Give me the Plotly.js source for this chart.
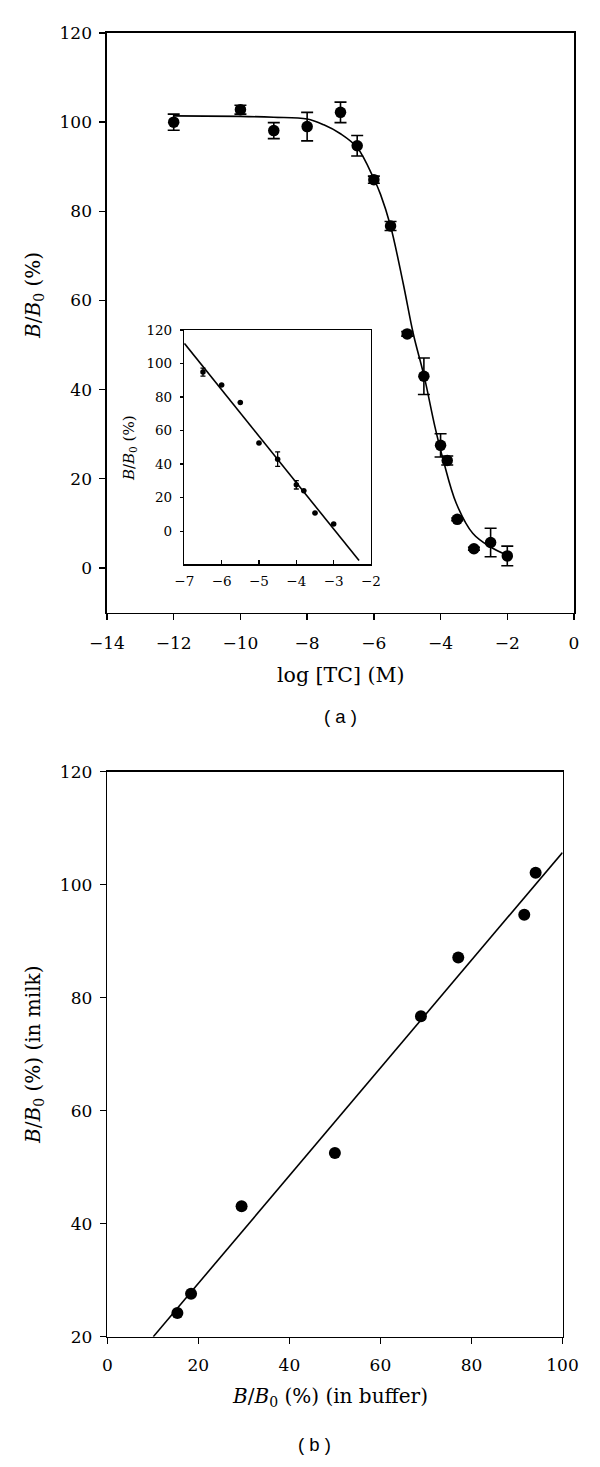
<!DOCTYPE html>
<html>
<head>
<meta charset="utf-8">
<script src="https://cdn.plot.ly/plotly-3.0.1.min.js"></script>
<style>
  html, body { margin: 0; padding: 0; background: #fff; }
  #chart { width: 600px; height: 1467px; }
</style>
</head>
<body>
<div id="chart"></div>
<script>
// ---------- Panel (a): main competitive curve ----------
const logTC      = [-12, -10, -9, -8, -7, -6.5, -6, -5.5, -5, -4.5, -4, -3.8, -3.5, -3, -2.5, -2];
const bb0        = [100.0, 102.8, 98.1, 99.0, 102.2, 94.7, 87.1, 76.7, 52.5, 43.0, 27.5, 24.1, 10.9, 4.3, 5.7, 2.7];
const bb0Err     = [1.8, 1.0, 1.8, 3.2, 2.3, 2.3, 0.8, 1.0, 0.5, 4.1, 2.6, 1.0, 0.3, 0.3, 3.2, 2.2];

// fitted sigmoid
const curveX = [-12, -10, -9, -8, -7.5, -7, -6.5, -6, -5.8, -5.5, -5.12, -4.82, -4.49, -4.17, -3.92, -3.53, -3.03, -2.53, -2.02];
const curveY = [101.4, 101.3, 101.1, 100.7, 99.4, 97.4, 94.3, 87.3, 83.8, 76.7, 63.8, 52.6, 42.9, 31.7, 24.2, 14.5, 7.7, 4.8, 2.9];

// ---------- Inset: linear range ----------
const insetX    = [-6.5, -6, -5.5, -5, -4.5, -4, -3.8, -3.5, -3];
const insetY    = [94.9, 87.2, 76.8, 52.6, 43.0, 27.7, 24.2, 10.9, 4.4];
const insetErr  = [2.4, 0, 0, 0, 4.3, 2.5, 0, 0, 0];
const insetFitX = [-7, -2.32];
const insetFitY = [112.1, -17.5];

// ---------- Panel (b): milk vs buffer ----------
const bufferX = [15.4, 18.4, 29.5, 50.0, 68.9, 77.1, 91.6, 94.1];
const milkY   = [24.2, 27.6, 43.1, 52.5, 76.7, 87.1, 94.7, 102.1];
const fitBX   = [10.1, 100];
const fitBY   = [20, 105.7];

// tick labels
const tickA_X = [-14, -12, -10, -8, -6, -4, -2, 0];
const tickA_Y = [0, 20, 40, 60, 80, 100, 120];
const tickIn_X = [-7, -6, -5, -4, -3, -2];
const tickIn_Y = [0, 20, 40, 60, 80, 100, 120];
const tickB_X = [0, 20, 40, 60, 80, 100];
const tickB_Y = [20, 40, 60, 80, 100, 120];

const W = 600, H = 1467;
const px = v => v / W;
const py = v => 1 - v / H;

const SERIF = 'DejaVu Serif, Liberation Serif, serif';
const SANS = 'Liberation Sans, Arial, sans-serif';

const traces = [
  { x: curveX, y: curveY, xaxis: 'x', yaxis: 'y', mode: 'lines', type: 'scatter',
    line: { color: '#000', width: 1.6, shape: 'spline', smoothing: 1 }, hoverinfo: 'skip' },
  { x: logTC, y: bb0, xaxis: 'x', yaxis: 'y', mode: 'markers', type: 'scatter',
    marker: { color: '#000', size: 11.5 },
    error_y: { type: 'data', array: bb0Err, visible: true, color: '#000', thickness: 1.6, width: 6 } },
  { x: insetFitX, y: insetFitY, xaxis: 'x2', yaxis: 'y2', mode: 'lines', type: 'scatter',
    line: { color: '#000', width: 1.6 }, hoverinfo: 'skip' },
  { x: insetX, y: insetY, xaxis: 'x2', yaxis: 'y2', mode: 'markers', type: 'scatter',
    marker: { color: '#000', size: 5.5 },
    error_y: { type: 'data', array: insetErr, visible: true, color: '#000', thickness: 1.3, width: 2.5 } },
  { x: fitBX, y: fitBY, xaxis: 'x3', yaxis: 'y3', mode: 'lines', type: 'scatter',
    line: { color: '#000', width: 1.6 }, hoverinfo: 'skip' },
  { x: bufferX, y: milkY, xaxis: 'x3', yaxis: 'y3', mode: 'markers', type: 'scatter',
    marker: { color: '#000', size: 12 } }
];

const axBase = {
  showline: true, linecolor: '#000', linewidth: 1.6, mirror: true,
  showgrid: false, zeroline: false, ticks: 'outside', ticklen: 6, tickwidth: 1.4, tickcolor: '#000',
  tickfont: { family: SERIF, size: 17, color: '#000' }, tickmode: 'array'
};

const layout = {
  width: W, height: H,
  margin: { l: 0, r: 0, t: 0, b: 0 },
  paper_bgcolor: '#fff', plot_bgcolor: 'rgba(0,0,0,0)',
  showlegend: false,
  xaxis: Object.assign({}, axBase, { domain: [px(107), px(574)], anchor: 'y', range: [-14, 0],
    tickvals: tickA_X, ticklabelstandoff: 8 }),
  yaxis: Object.assign({}, axBase, { domain: [py(612.5), py(33)], anchor: 'x', range: [-10, 120],
    tickvals: tickA_Y, ticklabelstandoff: 4 }),
  xaxis2: Object.assign({}, axBase, { domain: [px(184.3), px(371)], anchor: 'y2', range: [-7, -2],
    tickvals: tickIn_X, ticks: 'inside', ticklen: 4, linewidth: 1.4,
    tickfont: { family: SERIF, size: 13.5, color: '#000' }, ticklabelstandoff: 4 }),
  yaxis2: Object.assign({}, axBase, { domain: [py(564.3), py(330)], anchor: 'x2', range: [-19.7, 120],
    tickvals: tickIn_Y, ticklen: 3, linewidth: 1.4,
    tickfont: { family: SERIF, size: 13.5, color: '#000' }, ticklabelstandoff: 5 }),
  xaxis3: Object.assign({}, axBase, { domain: [px(107.3), px(562.5)], anchor: 'y3', range: [0, 100],
    tickvals: tickB_X, ticklabelstandoff: 6 }),
  yaxis3: Object.assign({}, axBase, { domain: [py(1336.7), py(771.7)], anchor: 'x3', range: [20, 120],
    tickvals: tickB_Y, ticklabelstandoff: 4 }),
  annotations: [
    { text: 'log [TC] (M)', xref: 'paper', yref: 'paper', x: px(340.5), y: py(675),
      xanchor: 'center', yanchor: 'middle', showarrow: false,
      font: { family: SERIF, size: 20.5, color: '#000' } },
    { text: '<i>B</i>/<i>B</i><sub>0</sub> (%)', xref: 'paper', yref: 'paper', x: px(34), y: py(296),
      textangle: -90, xanchor: 'center', yanchor: 'middle', showarrow: false,
      font: { family: SERIF, size: 20, color: '#000' } },
    { text: '<i>B</i>/<i>B</i><sub>0</sub> (%)', xref: 'paper', yref: 'paper', x: px(130), y: py(448),
      textangle: -90, xanchor: 'center', yanchor: 'middle', showarrow: false,
      font: { family: SERIF, size: 15, color: '#000' } },
    { text: '( a )', xref: 'paper', yref: 'paper', x: px(340), y: py(716),
      xanchor: 'center', yanchor: 'middle', showarrow: false,
      font: { family: SANS, size: 18.5, color: '#000' } },
    { text: '<i>B</i>/<i>B</i><sub>0</sub> (%) (in buffer)', xref: 'paper', yref: 'paper', x: px(330), y: py(1397),
      xanchor: 'center', yanchor: 'middle', showarrow: false,
      font: { family: SERIF, size: 20, color: '#000' } },
    { text: '<i>B</i>/<i>B</i><sub>0</sub> (%) (in milk)', xref: 'paper', yref: 'paper', x: px(34), y: py(1055),
      textangle: -90, xanchor: 'center', yanchor: 'middle', showarrow: false,
      font: { family: SERIF, size: 20, color: '#000' } },
    { text: '( b )', xref: 'paper', yref: 'paper', x: px(314), y: py(1444),
      xanchor: 'center', yanchor: 'middle', showarrow: false,
      font: { family: SANS, size: 18.5, color: '#000' } }
  ]
};

Plotly.newPlot('chart', traces, layout, { staticPlot: true, displayModeBar: false });
</script>
</body>
</html>
